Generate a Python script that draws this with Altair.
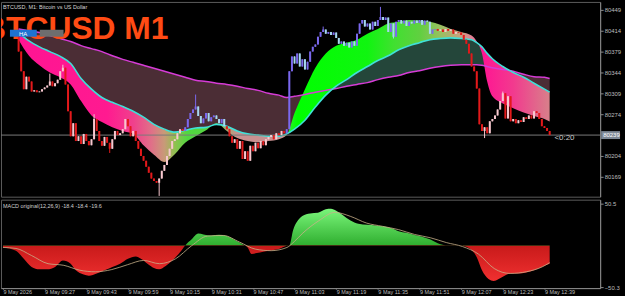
import altair as alt
import pandas as pd

FONT = "Liberation Sans"

# ---------------- time axis (minutes after 09:11, 9 May 2026) ----------------
x_tick_t = [0, 16, 32, 48, 64, 80, 96, 112, 128, 144, 160, 176, 192, 208]
x_tick_labels = ["9 May 2026", "9 May 09:27", "9 May 09:43", "9 May 09:59", "9 May 10:15",
                 "9 May 10:31", "9 May 10:47", "9 May 11:03", "9 May 11:19", "9 May 11:35",
                 "9 May 11:51", "9 May 12:07", "9 May 12:23", "9 May 12:39"]
price_ticks = [80449, 80414, 80379, 80344, 80309, 80274, 80204, 80169]
macd_ticks = [50.5, -50.3]

# ---------------- 1-minute candles ----------------
candle_t0 = 6
first_open = 80409
closes = [
    80379, 80346, 80316, 80337, 80329, 80312, 80314, 80311, 80312, 80316,
    80319, 80322, 80329, 80321, 80326, 80332, 80346, 80352, 80324, 80279,
    80237, 80259, 80229, 80237, 80224, 80241, 80229, 80222, 80232, 80266,
    80246, 80229, 80221, 80236, 80226, 80216, 80232, 80246, 80239, 80242,
    80249, 80266, 80254, 80237, 80246, 80229, 80216, 80204, 80196, 80186,
    80176, 80166, 80162, 80159, 80166, 80179, 80189, 80204, 80216, 80229,
    80232, 80242, 80249, 80246, 80252, 80266, 80276, 80282, 80287, 80271,
    80259, 80267, 80276, 80262, 80269, 80272, 80266, 80259, 80266, 80254,
    80249, 80237, 80226, 80232, 80216, 80229, 80199, 80212, 80196, 80221,
    80212, 80226, 80217, 80229, 80222, 80232, 80236, 80239, 80232, 80242,
    80239, 80246, 80242, 80249, 80346, 80371, 80359, 80376, 80354, 80366,
    80349, 80362, 80379, 80387, 80391, 80404, 80412, 80416, 80409, 80412,
    80407, 80411, 80402, 80392, 80396, 80389, 80394, 80386, 80396, 80389,
    80409, 80426, 80432, 80421, 80426, 80416, 80429, 80422, 80432, 80437,
    80432, 80436, 80412, 80426, 80404, 80429, 80432, 80426, 80431, 80422,
    80429, 80426, 80431, 80427, 80432, 80424, 80431, 80429, 80409, 80416,
    80417, 80414, 80416, 80412, 80417, 80414, 80416, 80409, 80412, 80411,
    80407, 80399, 80392, 80376, 80354, 80346, 80317, 80257, 80246, 80252,
    80242, 80262, 80266, 80272, 80282, 80296, 80309, 80267, 80304, 80262,
    80266, 80259, 80264, 80261, 80269, 80266, 80272, 80267, 80279, 80276,
    80266, 80254, 80251, 80246, 80239,
]
wick_high_t = [18, 23, 35, 74, 123, 145, 192]
wick_high = [80342, 80357, 80274, 80307, 80421, 80454, 80312]
wick_low_t = [41, 60, 150, 185]
wick_low = [80209, 80137, 80401, 80234]

trend_t = [6, 70, 86, 109, 167]
trend_dir = ["down", "up", "down", "up", "down"]

# ---------------- moving-average ribbon samples ----------------
band_t = [6, 10, 14, 18, 22, 26, 30, 34, 38, 42, 46, 50, 54, 58, 62, 66, 70, 74, 78, 82,
          86, 90, 94, 98, 102, 106, 109, 112, 116, 120, 124, 128, 132, 136, 140, 144, 148,
          152, 156, 160, 164, 168, 172, 176, 180, 182, 184, 186, 188, 192, 196, 200, 204,
          208, 210]
fast_ma = [80399, 80372, 80356, 80344, 80336, 80324, 80296, 80272, 80261, 80252, 80246,
           80241, 80222, 80206, 80194, 80207, 80226, 80237, 80247, 80259, 80246, 80234,
           80229, 80227, 80229, 80232, 80239, 80276, 80316, 80352, 80376, 80389, 80394,
           80399, 80409, 80417, 80426, 80429, 80432, 80431, 80429, 80424, 80417, 80412,
           80406, 80396, 80376, 80329, 80304, 80292, 80284, 80277, 80271, 80266, 80262]
mid_ma = [80411, 80397, 80387, 80379, 80371, 80359, 80334, 80316, 80302, 80294, 80287,
          80279, 80269, 80257, 80249, 80244, 80247, 80251, 80252, 80257, 80254, 80246,
          80241, 80239, 80237, 80237, 80241, 80249, 80264, 80286, 80306, 80321, 80332,
          80344, 80354, 80364, 80372, 80382, 80389, 80394, 80399, 80401, 80402, 80401,
          80399, 80394, 80387, 80376, 80367, 80354, 80344, 80336, 80326, 80316, 80311]
slow_ma = [80417, 80414, 80411, 80406, 80401, 80396, 80389, 80384, 80379, 80372, 80366,
           80361, 80356, 80351, 80346, 80341, 80336, 80331, 80329, 80326, 80324, 80321,
           80317, 80314, 80309, 80306, 80302, 80304, 80307, 80311, 80314, 80317, 80321,
           80324, 80327, 80332, 80336, 80339, 80344, 80347, 80351, 80354, 80356, 80357,
           80357, 80357, 80356, 80354, 80352, 80349, 80346, 80341, 80337, 80336, 80334]

fast_color_t = [6, 40, 50, 57, 62, 66, 71, 82, 86, 90, 108, 109.5, 113, 140, 150, 160,
                168, 176, 181, 184, 196, 210]
fast_colors = ["#ff1493", "#ff1a90", "#f0408c", "#e07088", "#c89a78", "#90c050", "#50d840",
               "#58d040", "#a8a870", "#c89090", "#c89090", "#30f030", "#00ff00", "#10f510",
               "#40e030", "#60d040", "#98c060", "#c8a080", "#e87898", "#ff1493", "#f23a8e",
               "#d8808a"]
slow_cross_t = [126.5, 195]

# ---------------- MACD ----------------
macd_t = [0, 5, 8, 11, 14, 17, 20, 23, 26, 28, 31, 33, 36, 39, 42, 45, 48, 51, 53, 55.5,
          58, 60, 62.5, 65, 68, 70, 72.5, 75, 77, 80, 83, 86, 89, 92, 94, 95.5, 97.5, 100,
          103, 106, 109, 110, 111.5, 113, 115, 118, 121, 124, 126, 128, 130.5, 133.5, 136.5,
          140, 143, 146, 149, 152, 155, 158, 161, 164, 167, 170, 173.5, 176.5, 179.5, 182,
          184, 186.5, 188.5, 192, 195, 198, 201, 204, 207, 210]
macd_hist = [-2.4, -6.3, -16.1, -25.9, -28.7, -28.7, -25.9, -18.1, -22, -29.9,
             -35, -36.5, -33.8, -29.9, -25.9, -22, -16.1, -13.4, -16.1, -22,
             -27.1, -28.7, -24.8, -18.1, -8.3, 0, 7.4, 14.4, 13.3, 12.1,
             12.9, 11.3, 6.6, 1.5, -2.4, -10.3, -9.1, -7.5, -6, -4.4,
             -0.5, 0, 19.1, 28.9, 35.6, 38.7, 39.5, 43.8, 44.2, 41.9,
             36.8, 30.1, 26.2, 25, 24.2, 23.1, 21.1, 17.2, 15.2, 12.5,
             10.5, 7.4, 2.7, 0.3, 0.3, -0.5, -4.4, -14.2, -29.9, -40.4,
             -42.8, -37.7, -33.8, -33.8, -32.6, -29.9, -25.9, -22]
sig_t = [0, 5, 11, 17.3, 23.4, 29.5, 35.6, 41.8, 47.9, 54, 60.1, 66.3, 72.4, 78.5, 84.6,
         90.8, 96.9, 103, 109.1, 112, 115.2, 121.4, 127.5, 133.6, 139.7, 145.8, 152, 158.1,
         164.2, 170.3, 176.5, 182.6, 188.7, 194.8, 201, 207.1, 210]
macd_signal = [-2.4, -3.6, -12.2, -22, -24, -29.9, -31.8, -29.1, -23.2, -18.1,
               -22, -16.1, -0.5, 11.3, 12.1, 4.2, -4.4, -6.3, -2.4, 5,
               15, 30, 40, 35, 27, 23.1, 19.1, 13.3, 9.3, 3.5,
               -1.3, -10.3, -27.9, -33.8, -31.8, -25.9, -20.8]

# ---------------- build tables ----------------
UP_BULL, UP_BEAR, DN_BULL, DN_BEAR = "#7b68ee", "#a6d8f0", "#f8c8cf", "#e3191b"


def regime(t):
    d = trend_dir[0]
    for s, dd in zip(trend_t, trend_dir):
        if t >= s:
            d = dd
    return d


rows = []
prev = first_open
for i, c in enumerate(closes):
    t = candle_t0 + i
    o = prev
    hi, lo = max(o, c), min(o, c)
    if t in wick_high_t:
        hi = max(hi, wick_high[wick_high_t.index(t)])
    if t in wick_low_t:
        lo = min(lo, wick_low[wick_low_t.index(t)])
    if regime(t) == "up":
        col = UP_BULL if c >= o else UP_BEAR
    else:
        col = DN_BULL if c >= o else DN_BEAR
    rows.append(dict(t=t, open=o, close=c, high=hi, low=lo, col=col))
    prev = c
candles = pd.DataFrame(rows)
last_close = closes[-1]

band = pd.DataFrame({"t": band_t, "fast": fast_ma, "mid": mid_ma, "slow": slow_ma})
macd_df = pd.DataFrame({"t": macd_t, "hist": macd_hist, "zero": [0] * len(macd_t)})
sig_df = pd.DataFrame({"t": sig_t, "signal": macd_signal})
one = pd.DataFrame({"a": [0]})
price_df = pd.DataFrame({"p": [last_close], "lab": [str(last_close)]})

t_lo, t_hi = band_t[0], band_t[-1]


def off(t):
    return max(0.0, min(1.0, (t - t_lo) / (t_hi - t_lo)))


fast_grad = alt.Gradient(
    gradient="linear", x1=0, x2=1, y1=0, y2=0,
    stops=[alt.GradientStop(offset=off(t), color=c) for t, c in zip(fast_color_t, fast_colors)])

MAROON, DKGREEN = "#4b2d35", "#24463a"
slow_grad = alt.Gradient(
    gradient="linear", x1=0, x2=1, y1=0, y2=0,
    stops=[alt.GradientStop(offset=0, color=MAROON),
           alt.GradientStop(offset=off(slow_cross_t[0]), color=MAROON),
           alt.GradientStop(offset=off(slow_cross_t[0]) + 0.001, color=DKGREEN),
           alt.GradientStop(offset=off(slow_cross_t[1]), color=DKGREEN),
           alt.GradientStop(offset=off(slow_cross_t[1]) + 0.001, color=MAROON),
           alt.GradientStop(offset=1, color=MAROON)])

h_max, h_min = max(macd_hist), min(macd_hist)
z_off = h_max / (h_max - h_min)
hist_grad = alt.Gradient(
    gradient="linear", x1=0, x2=0, y1=0, y2=1,
    stops=[alt.GradientStop(offset=0, color="#7af57a"),
           alt.GradientStop(offset=z_off, color="#2fae2f"),
           alt.GradientStop(offset=z_off + 0.001, color="#c81a1a"),
           alt.GradientStop(offset=1, color="#f03030")])

# ---------------- scales & axes ----------------
xscale = alt.Scale(domain=[-0.76, 229.4], nice=False, zero=False)
yscale_top = alt.Scale(domain=[80135.7, 80462.3], nice=False, zero=False)
yscale_bot = alt.Scale(domain=[-51.5, 55.3], nice=False, zero=False)

AX = dict(title=None, grid=False, labelFont=FONT, labelColor="#bdbdbd",
          tickColor="#8a8a8a", domainColor="#8a8a8a")
yax_top = alt.Axis(orient="right", values=price_ticks, format="d", labelFontSize=6,
                   tickSize=3, labelPadding=1, **AX)
yax_bot = alt.Axis(orient="right", values=macd_ticks, format=".1f", labelFontSize=6,
                   tickSize=3, labelPadding=1, **AX)
label_expr = "[" + ",".join("'%s'" % s for s in x_tick_labels) + "][round(datum.value / 16)]"
xax_bot = alt.Axis(values=x_tick_t, labelExpr=label_expr, labelAlign="left", labelFontSize=5.5,
                   tickSize=1, labelPadding=0, labelOverlap=False, **AX)

X = alt.X("t:Q", scale=xscale, axis=None)


def Ytop(f):
    return alt.Y(f, type="quantitative", scale=yscale_top, axis=yax_top)


def txt(text, x, y, size, color, **kw):
    return alt.Chart(one).mark_text(text=text, fontSize=size, color=color, font=FONT,
                                    align="left", baseline="alphabetic", **kw).encode(
        x=alt.value(x), y=alt.value(y))


# ---------------- top panel ----------------
slow_area = alt.Chart(band).mark_area(color=slow_grad, interpolate="monotone", clip=True).encode(
    x=X, y=Ytop("mid"), y2="slow")
fast_area = alt.Chart(band).mark_area(color=fast_grad, interpolate="monotone", clip=True).encode(
    x=X, y=Ytop("fast"), y2="mid")
mid_line = alt.Chart(band).mark_line(color="#3fe0d8", strokeWidth=1.6, interpolate="monotone").encode(
    x=X, y=Ytop("mid"))
slow_line = alt.Chart(band).mark_line(color="#d63cd6", strokeWidth=1.5, interpolate="monotone").encode(
    x=X, y=Ytop("slow"))
price_line = alt.Chart(price_df).mark_rule(color="#7a7a7a", strokeWidth=1).encode(y=Ytop("p"))
wicks = alt.Chart(candles).mark_rule(strokeWidth=1, clip=True).encode(
    x=X, y=Ytop("low"), y2="high", color=alt.Color("col:N", scale=None))
bodies = alt.Chart(candles).mark_rule(strokeWidth=2, clip=True).encode(
    x=X, y=Ytop("open"), y2="close", color=alt.Color("col:N", scale=None))
price_box = alt.Chart(price_df).mark_rule(strokeWidth=8, color="#7d8896").encode(
    y=Ytop("p"), x=alt.value(604), x2=alt.value(623))
price_txt = alt.Chart(price_df).mark_text(fontSize=6, color="#ffffff", font=FONT, align="left",
                                          baseline="middle").encode(
    y=Ytop("p"), x=alt.value(606), text="lab:N")
timer_txt = alt.Chart(price_df).mark_text(text="<0:20", fontSize=8, color="#c8c8c8", font=FONT,
                                          align="left", baseline="middle", dy=3).encode(
    y=Ytop("p"), x=alt.value(557))

ha_box = alt.Chart(one).mark_rect(color="#1e73d2").encode(
    x=alt.value(9), x2=alt.value(36), y=alt.value(28), y2=alt.value(35))
gray_box = alt.Chart(one).mark_rect(color="#6e6e6e").encode(
    x=alt.value(39), x2=alt.value(63), y=alt.value(28), y2=alt.value(35))

top = alt.layer(
    slow_area, fast_area, slow_line, mid_line, price_line, wicks, bodies,
    txt("BTCUSD M1", -18, 37, 32, "#ff4b14", fontWeight="bold", clip=True),
    txt("BTCUSD, M1:  Bitcoin vs US Dollar", 2, 7, 5.5, "#d8d8d8"),
    ha_box, gray_box,
    txt("HA", 18, 34, 6, "#ffffff"),
    timer_txt, price_box, price_txt,
).properties(width=603, height=196)

# ---------------- bottom panel (MACD) ----------------
Xb = alt.X("t:Q", scale=xscale, axis=xax_bot)
hist_area = alt.Chart(macd_df).mark_area(color=hist_grad, interpolate="monotone").encode(
    x=Xb, y=alt.Y("hist:Q", scale=yscale_bot, axis=yax_bot), y2="zero")
sig_line = alt.Chart(sig_df).mark_line(color="#c9b18a", strokeWidth=0.8, interpolate="monotone").encode(
    x=Xb, y=alt.Y("signal:Q", scale=yscale_bot, axis=yax_bot))

bottom = alt.layer(
    hist_area, sig_line,
    txt("MACD original(12,26,9) -18.4 -18.4 -19.6", 2, 8, 5.5, "#d0d0d0"),
).properties(width=603, height=89)

chart = alt.vconcat(top, bottom, spacing=1, padding=0, background="#000000").configure_view(
    stroke="#5c5c5c", strokeWidth=1)

chart.save("out.html", embed_options={"renderer": "svg", "actions": False})
